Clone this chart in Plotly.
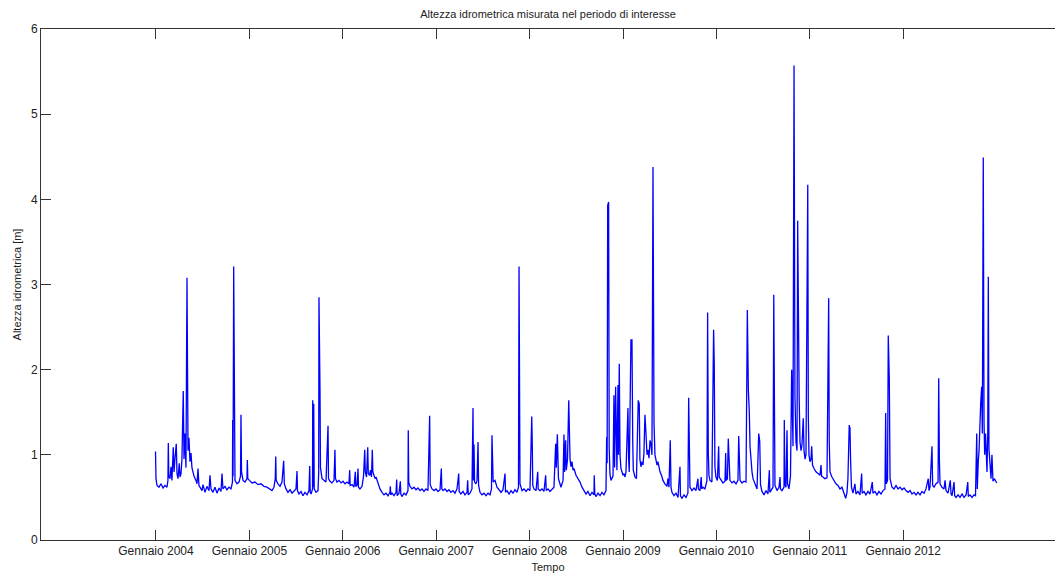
import plotly.graph_objects as go

# time in decimal years, water level in metres
t = [
2003.995,2004.000,2004.011,2004.032,2004.054,2004.075,2004.096,2004.118,2004.128,2004.132,2004.137,2004.150,2004.161,2004.171,2004.185,2004.193,2004.203,2004.217,2004.225,2004.236,2004.249,2004.257,2004.268,2004.278,2004.292,2004.300,2004.310,2004.321,2004.332,2004.337,2004.343,2004.353,2004.364,2004.375,2004.385,2004.396,2004.407,2004.428,2004.439,2004.450,2004.460,2004.471,2004.493,
2004.503,2004.525,2004.546,2004.568,2004.578,2004.589,2004.610,2004.632,2004.653,2004.675,2004.696,2004.707,2004.717,2004.739,2004.760,2004.782,2004.803,2004.819,2004.821,2004.825,2004.832,2004.839,2004.846,2004.867,2004.889,2004.905,2004.910,2004.916,2004.932,2004.953,2004.974,2004.978,2004.983,
2005.000,2005.028,2005.060,2005.092,2005.124,2005.156,2005.188,2005.221,2005.242,2005.263,2005.277,2005.282,2005.287,2005.306,2005.328,2005.349,2005.367,2005.374,2005.392,2005.413,2005.435,2005.456,2005.478,2005.499,2005.510,2005.515,2005.531,2005.553,2005.574,2005.595,2005.617,2005.638,2005.646,2005.651,2005.660,2005.676,2005.678,2005.683,2005.689,2005.694,2005.713,2005.735,2005.742,2005.745,2005.756,2005.761,2005.778,2005.799,2005.820,2005.842,2005.847,2005.863,2005.884,2005.906,2005.916,2005.922,2005.938,2005.959,2005.981,
2006.002,2006.024,2006.045,2006.066,2006.074,2006.079,2006.099,2006.120,2006.134,2006.139,2006.152,2006.163,2006.168,2006.184,2006.206,2006.222,2006.235,2006.241,2006.254,2006.267,2006.273,2006.286,2006.297,2006.307,2006.316,2006.322,2006.334,2006.345,2006.356,2006.377,2006.398,2006.420,2006.441,2006.463,2006.484,2006.505,2006.509,2006.514,2006.527,2006.548,2006.570,2006.577,2006.582,2006.602,2006.616,2006.621,2006.634,2006.655,2006.677,2006.698,2006.701,2006.706,2006.720,2006.741,2006.762,2006.784,2006.805,2006.827,2006.848,2006.869,2006.891,2006.912,2006.930,2006.936,2006.955,2006.977,
2006.998,2007.019,2007.041,2007.055,2007.060,2007.073,2007.094,2007.116,2007.137,2007.158,2007.180,2007.201,2007.223,2007.241,2007.246,2007.265,2007.287,2007.308,2007.330,2007.337,2007.343,2007.362,2007.383,2007.394,2007.399,2007.405,2007.411,2007.426,2007.437,2007.448,2007.454,2007.469,2007.490,2007.512,2007.533,2007.555,2007.576,2007.592,2007.597,2007.604,2007.610,2007.630,2007.651,2007.673,2007.694,2007.715,2007.737,2007.742,2007.758,2007.780,2007.801,2007.822,2007.844,2007.865,2007.881,2007.887,2007.892,2007.897,2007.919,2007.940,2007.962,2007.983,
2008.004,2008.023,2008.028,2008.034,2008.047,2008.069,2008.087,2008.092,2008.111,2008.133,2008.154,2008.172,2008.178,2008.197,2008.218,2008.240,2008.261,2008.279,2008.286,2008.297,2008.303,2008.309,2008.325,2008.336,2008.358,2008.368,2008.375,2008.386,2008.393,2008.406,2008.419,2008.425,2008.433,2008.443,2008.454,2008.465,2008.475,2008.497,2008.518,2008.540,2008.561,2008.582,2008.604,2008.625,2008.647,2008.668,2008.689,2008.692,2008.698,2008.711,2008.732,2008.754,2008.775,2008.796,2008.818,2008.825,2008.830,2008.836,2008.846,2008.852,2008.860,2008.871,2008.882,2008.893,2008.903,2008.910,2008.921,2008.928,2008.935,2008.946,2008.952,2008.960,2008.968,2008.978,2008.989,
2009.000,2009.011,2009.021,2009.032,2009.053,2009.060,2009.067,2009.085,2009.096,2009.104,2009.110,2009.128,2009.144,2009.163,2009.174,2009.181,2009.192,2009.203,2009.214,2009.224,2009.235,2009.246,2009.257,2009.267,2009.278,2009.289,2009.299,2009.310,2009.313,2009.321,2009.332,2009.342,2009.353,2009.364,2009.374,2009.385,2009.396,2009.412,2009.428,2009.449,2009.471,2009.481,2009.492,2009.506,2009.514,2009.524,2009.546,2009.567,2009.589,2009.610,2009.615,2009.631,2009.653,2009.674,2009.695,2009.703,2009.709,2009.717,2009.738,2009.760,2009.781,2009.802,2009.807,2009.824,2009.837,2009.843,2009.856,2009.877,2009.899,2009.906,2009.913,2009.920,2009.931,2009.952,2009.970,2009.977,2009.984,
2009.995,2010.011,2010.024,2010.030,2010.049,2010.070,2010.092,2010.099,2010.105,2010.118,2010.127,2010.134,2010.145,2010.167,2010.188,2010.210,2010.231,2010.239,2010.245,2010.253,2010.274,2010.295,2010.317,2010.331,2010.342,2010.352,2010.360,2010.370,2010.381,2010.392,2010.413,2010.435,2010.453,2010.464,2010.472,2010.488,2010.510,2010.531,2010.552,2010.567,2010.572,2010.585,2010.606,2010.614,2010.620,2010.627,2010.649,2010.670,2010.681,2010.686,2010.702,2010.724,2010.727,2010.733,2010.745,2010.756,2010.762,2010.777,2010.793,2010.806,2010.812,2010.820,2010.831,2010.841,2010.852,2010.863,2010.870,2010.879,2010.886,2010.895,2010.906,2010.916,2010.930,2010.938,2010.949,2010.959,2010.978,2010.984,2010.991,
2011.002,2011.013,2011.020,2011.029,2011.045,2011.066,2011.088,2011.109,2011.120,2011.126,2011.141,2011.162,2011.184,2011.202,2011.208,2011.216,2011.237,2011.259,2011.280,2011.301,2011.323,2011.344,2011.366,2011.384,2011.398,2011.408,2011.422,2011.430,2011.436,2011.446,2011.462,2011.483,2011.494,2011.515,2011.537,2011.555,2011.561,2011.580,2011.601,2011.623,2011.644,2011.669,2011.676,2011.697,2011.719,2011.740,2011.762,2011.783,2011.805,2011.812,2011.819,2011.832,2011.840,2011.851,2011.859,2011.880,2011.901,2011.923,2011.944,2011.966,2011.987,
2012.009,2012.030,2012.052,2012.073,2012.094,2012.116,2012.137,2012.158,2012.180,2012.201,2012.223,2012.244,2012.268,2012.276,2012.287,2012.308,2012.315,2012.330,2012.351,2012.373,2012.380,2012.387,2012.394,2012.415,2012.437,2012.448,2012.458,2012.480,2012.504,2012.512,2012.523,2012.544,2012.551,2012.566,2012.587,2012.608,2012.630,2012.651,2012.673,2012.691,2012.697,2012.715,2012.737,2012.758,2012.774,2012.787,2012.793,2012.804,2012.812,2012.830,2012.840,2012.847,2012.857,2012.865,2012.872,2012.881,2012.889,2012.897,2012.905,2012.911,2012.918,2012.929,2012.940,2012.950,2012.961,2012.977,2013.001,
]

h = [
1.04,0.72,0.64,0.62,0.66,0.61,0.64,0.62,0.70,1.14,0.75,0.72,0.86,0.70,1.09,0.80,0.95,1.13,0.78,0.72,0.90,0.74,0.78,0.95,1.75,0.95,1.25,0.85,3.08,1.92,1.05,1.20,0.92,1.02,0.85,0.80,0.75,0.70,0.66,0.84,0.64,0.62,0.58,
0.65,0.56,0.63,0.58,0.76,0.60,0.56,0.62,0.55,0.61,0.57,0.78,0.60,0.63,0.59,0.62,0.60,0.68,1.41,0.75,3.21,0.90,0.70,0.66,0.68,0.75,1.47,0.80,0.70,0.68,0.72,0.94,0.72,
0.70,0.67,0.68,0.65,0.66,0.63,0.62,0.60,0.58,0.62,0.72,0.98,0.70,0.66,0.63,0.68,0.93,0.66,0.60,0.56,0.59,0.55,0.58,0.60,0.81,0.58,0.54,0.57,0.52,0.56,0.53,0.58,0.87,0.56,0.54,0.60,1.64,0.62,1.60,0.60,0.56,0.58,0.80,2.85,1.75,0.85,0.72,0.70,0.68,1.34,0.72,0.69,0.67,0.70,1.06,0.72,0.68,0.70,0.67,
0.69,0.66,0.68,0.66,0.82,0.64,0.65,0.62,0.80,0.63,0.64,0.84,0.62,0.60,0.63,0.75,1.06,0.80,0.74,1.09,0.78,0.76,0.82,0.74,1.06,0.80,0.76,0.72,0.74,0.66,0.60,0.56,0.53,0.55,0.52,0.56,0.63,0.53,0.55,0.52,0.56,0.71,0.52,0.55,0.69,0.54,0.51,0.55,0.53,0.58,1.29,0.68,0.63,0.60,0.62,0.59,0.61,0.58,0.60,0.57,0.60,0.58,1.46,0.65,0.60,0.58,
0.60,0.57,0.59,0.84,0.60,0.58,0.60,0.57,0.59,0.56,0.58,0.55,0.60,0.78,0.57,0.54,0.57,0.53,0.56,0.70,0.53,0.55,0.60,1.55,0.70,1.12,0.68,0.66,0.70,1.15,0.64,0.56,0.53,0.55,0.52,0.55,0.53,0.60,1.23,1.01,0.68,0.70,0.62,0.59,0.56,0.59,0.78,0.56,0.58,0.54,0.58,0.55,0.59,0.56,0.62,3.21,1.00,0.66,0.58,0.60,0.57,0.60,
0.58,1.45,1.17,0.64,0.60,0.58,0.80,0.60,0.58,0.60,0.57,0.76,0.58,0.60,0.57,0.60,0.62,1.13,0.85,1.24,1.06,0.72,0.66,0.62,0.70,1.24,0.80,1.17,0.82,0.95,1.64,1.33,0.95,0.86,0.92,0.82,0.84,0.76,0.72,0.68,0.62,0.58,0.54,0.57,0.52,0.56,0.53,0.76,0.54,0.51,0.55,0.52,0.56,0.53,0.58,1.21,0.90,3.93,3.97,1.09,0.78,0.70,0.72,0.75,1.70,0.85,1.80,1.06,0.82,1.82,1.00,2.07,1.00,0.84,0.80,
0.76,0.78,0.74,0.80,1.55,0.96,0.80,2.35,2.35,1.17,0.82,0.74,0.72,1.64,1.60,0.95,0.86,0.92,0.88,1.02,1.47,1.25,1.00,1.06,0.96,1.17,1.13,1.00,2.03,4.38,1.37,1.00,0.94,0.88,0.92,0.84,0.80,0.76,0.70,0.66,0.63,0.72,0.62,1.17,0.62,0.56,0.52,0.55,0.50,0.86,0.52,0.49,0.53,0.50,0.55,1.67,0.78,0.62,0.58,0.61,0.58,0.72,0.60,0.58,0.74,0.60,0.62,0.60,0.70,2.67,1.04,0.76,0.70,0.68,2.47,2.07,0.86,
0.74,0.70,1.10,0.74,0.70,0.67,0.69,1.02,0.70,0.72,1.19,0.90,0.70,0.67,0.69,0.66,0.70,1.22,0.92,0.70,0.67,0.69,0.68,2.70,1.76,1.51,1.10,0.90,0.80,0.72,0.65,0.60,1.25,1.16,0.65,0.57,0.53,0.58,0.54,0.82,0.56,0.58,0.62,2.88,1.10,0.64,0.58,0.62,0.74,0.60,0.58,0.62,1.41,0.66,0.62,1.29,0.66,0.60,0.75,2.00,1.60,1.10,5.57,1.68,1.15,1.05,3.75,2.07,1.66,1.15,1.05,1.12,1.43,1.05,0.95,1.00,4.17,1.45,1.00,
0.92,0.95,1.10,0.88,0.84,0.80,0.78,0.76,0.88,0.75,0.74,0.72,0.73,2.84,1.16,0.80,0.74,0.70,0.66,0.64,0.60,0.62,0.56,0.49,0.56,0.72,1.35,1.31,0.96,0.62,0.55,0.66,0.54,0.57,0.53,0.78,0.55,0.57,0.53,0.57,0.54,0.68,0.55,0.57,0.53,0.57,0.54,0.58,0.60,1.49,0.66,0.70,2.40,1.88,0.72,0.62,0.60,0.64,0.60,0.62,0.59,
0.61,0.58,0.56,0.58,0.54,0.56,0.53,0.56,0.53,0.57,0.55,0.60,0.72,0.58,0.62,1.10,0.64,0.62,0.66,0.68,1.90,0.96,0.66,0.62,0.60,0.70,0.58,0.55,0.70,0.54,0.52,0.68,0.52,0.50,0.53,0.50,0.54,0.50,0.53,0.68,0.51,0.53,0.50,0.53,0.52,1.25,0.60,0.93,1.05,1.62,1.80,1.25,4.49,1.39,1.00,1.25,0.90,0.80,1.25,3.09,1.07,0.88,0.72,1.00,0.69,0.72,0.67,
]

year_ticks = [2004, 2005, 2006, 2007, 2008, 2009, 2010, 2011, 2012]
year_labels = ["Gennaio %d" % y for y in year_ticks]
y_ticks = [0, 1, 2, 3, 4, 5, 6]

font_family = "Liberation Sans, Arial, sans-serif"

fig = go.Figure()
fig.add_trace(go.Scatter(x=t, y=h, mode="lines",
                         line=dict(color="#0000ff", width=1.3),
                         hoverinfo="skip", showlegend=False))

fig.update_layout(
    width=1055, height=575,
    margin=dict(l=41, r=0, t=29, b=35),
    paper_bgcolor="white", plot_bgcolor="white",
    font=dict(family=font_family, size=12, color="#222"),
    title=dict(text="Altezza idrometrica misurata nel periodo di interesse",
               x=0.5, xref="paper", xanchor="center",
               y=0.976, yref="container", yanchor="middle",
               font=dict(size=11, color="#222", family=font_family)),
)
fig.update_xaxes(
    range=[2002.769, 2013.625],
    tickmode="array", tickvals=year_ticks, ticktext=year_labels,
    ticks="inside", ticklen=10, tickcolor="#333", tickwidth=1,
    showline=True, linecolor="#333", linewidth=1, mirror="ticks",
    showgrid=False, zeroline=False,
    tickfont=dict(size=12, color="#222"),
    title=dict(text="Tempo", font=dict(size=11, color="#222"), standoff=5),
)
fig.update_yaxes(
    range=[0, 6],
    tickmode="array", tickvals=y_ticks,
    ticks="inside", ticklen=10, tickcolor="#333", tickwidth=1,
    showline=True, linecolor="#333", linewidth=1,
    showgrid=False, zeroline=False,
    tickfont=dict(size=12, color="#222"),
    title=dict(text="Altezza idrometrica [m]", font=dict(size=11, color="#222"), standoff=7),
)

fig.write_html("out.html")
